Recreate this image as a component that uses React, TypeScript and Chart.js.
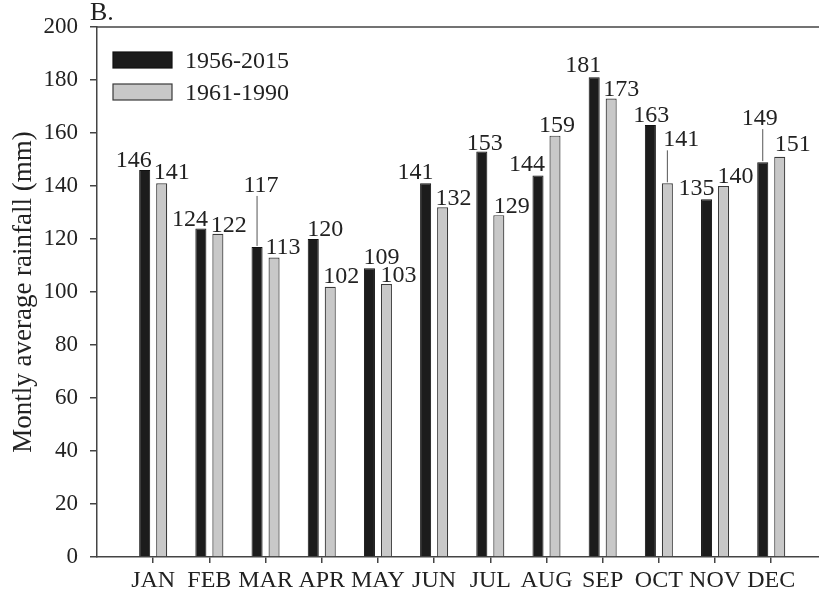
import React, { useEffect, useRef } from "react";
import { Chart, registerables } from "chart.js";

Chart.register(...registerables);

const MONTHS = ["JAN", "FEB", "MAR", "APR", "MAY", "JUN", "JUL", "AUG", "SEP", "OCT", "NOV", "DEC"];
const SERIES_A_LABEL = "1956-2015";
const SERIES_B_LABEL = "1961-1990";
const SERIES_A = [146, 124, 117, 120, 109, 141, 153, 144, 181, 163, 135, 149];
const SERIES_B = [141, 122, 113, 102, 103, 132, 129, 159, 173, 141, 140, 151];
const Y_TITLE = "Montly average rainfall (mm)";
const PANEL_TAG = "B.";

// value-label placement (pixel offsets from bar top centre)
const A_LABEL_DX = [-11, -11, 4, 12, 12, -10, 3, -11, -11, 1, -10, -3];
const A_LABEL_LIFT = [3, 2, 55, 3, 4, 4, 2, 4, 5, 3, 4, 37];
const B_LABEL_DX = [10, 11, 9, 11, 12, 11, 13, 2, 10, 14, 12, 13];
const B_LABEL_LIFT = [4, 2, 4, 4, 2, 2, 2, 4, 3, 37, 3, 6];

const FONT = '"Liberation Serif", "Times New Roman", serif';
const TEXT = "#222";
const AXIS = "#444";
const DARK = "#1c1c1c";
const LIGHT = "#c8c8c8";

const overlay = {
  id: "overlay",
  afterDatasetsDraw(chart: any) {
    const ctx = chart.ctx;
    const { left, right, top } = chart.chartArea;
    ctx.save();
    // top frame line
    ctx.strokeStyle = AXIS;
    ctx.lineWidth = 1.5;
    ctx.beginPath();
    ctx.moveTo(left, top);
    ctx.lineTo(right, top);
    ctx.stroke();

    // value labels
    ctx.font = `24px ${FONT}`;
    ctx.fillStyle = TEXT;
    ctx.textAlign = "center";
    ctx.textBaseline = "alphabetic";
    chart.data.datasets.forEach((ds: any, di: number) => {
      const meta = chart.getDatasetMeta(di);
      const dxs = di === 0 ? A_LABEL_DX : B_LABEL_DX;
      const lifts = di === 0 ? A_LABEL_LIFT : B_LABEL_LIFT;
      const vals = di === 0 ? SERIES_A : SERIES_B;
      meta.data.forEach((bar: any, i: number) => {
        const { x, y } = bar.getProps(["x", "y"], true);
        const tx = x + dxs[i];
        const ty = y - lifts[i];
        ctx.fillStyle = TEXT;
        ctx.fillText(String(vals[i]), tx, ty);
        if (lifts[i] > 20) {
          ctx.strokeStyle = "#555";
          ctx.lineWidth = 1;
          ctx.beginPath();
          ctx.moveTo(x, y - 1);
          ctx.lineTo(x, ty + 4);
          ctx.stroke();
        }
      });
    });

    // legend
    const items = chart.data.datasets;
    const sx = left + 16;
    const sw = 59;
    const sh = 16;
    const rowY = [52, 84];
    items.forEach((ds: any, di: number) => {
      const y0 = rowY[di];
      ctx.fillStyle = ds.backgroundColor;
      ctx.fillRect(sx, y0, sw, sh);
      ctx.strokeStyle = ds.borderColor;
      ctx.lineWidth = 1.2;
      ctx.strokeRect(sx, y0, sw, sh);
      ctx.fillStyle = TEXT;
      ctx.textAlign = "left";
      ctx.font = `24px ${FONT}`;
      ctx.fillText(ds.label, sx + sw + 13, y0 + sh);
    });

    // panel tag
    ctx.font = `26px ${FONT}`;
    ctx.textAlign = "left";
    ctx.fillText(PANEL_TAG, left - 7, top - 7);
    ctx.restore();
  },
};

export default function App() {
  const ref = useRef<HTMLCanvasElement>(null);
  useEffect(() => {
    if (!ref.current) return;
    const chart = new Chart(ref.current, {
      type: "bar",
      data: {
        datasets: [
          {
            label: SERIES_A_LABEL,
            data: SERIES_A.map((v, i) => ({ x: i + 1, y: v })),
            backgroundColor: DARK,
            borderColor: "#111",
            borderWidth: 1,
            categoryPercentage: 0.605,
            barPercentage: 0.65,
          },
          {
            label: SERIES_B_LABEL,
            data: SERIES_B.map((v, i) => ({ x: i + 1, y: v })),
            backgroundColor: LIGHT,
            borderColor: "#3a3a3a",
            borderWidth: 1.2,
            categoryPercentage: 0.605,
            barPercentage: 0.65,
          },
        ] as any,
      },
      options: {
        animation: false,
        responsive: true,
        maintainAspectRatio: false,
        layout: { padding: { top: 27, left: 0, right: 0, bottom: 0 } },
        plugins: { legend: { display: false }, tooltip: { enabled: false } },
        scales: {
          x: {
            type: "linear",
            min: 0,
            max: 12.85,
            offset: false,
            afterBuildTicks: (s: any) => {
              s.ticks = MONTHS.map((_, i) => ({ value: i + 1 }));
            },
            afterFit: (s: any) => {
              s.height = 34;
            },
            ticks: {
              autoSkip: false,
              maxRotation: 0,
              padding: 3,
              color: TEXT,
              font: { family: FONT, size: 24 },
              callback: (v: any) => MONTHS[Number(v) - 1] ?? "",
            },
            grid: { offset: false, drawOnChartArea: false, drawTicks: true, tickLength: 6, color: AXIS, lineWidth: 1.5 },
            border: { display: true, color: AXIS, width: 1.5 },
          },
          y: {
            min: 0,
            max: 200,
            afterFit: (s: any) => {
              s.width = 97;
            },
            ticks: {
              stepSize: 20,
              padding: 12,
              color: TEXT,
              font: { family: FONT, size: 23 },
            },
            grid: { drawOnChartArea: false, drawTicks: true, tickLength: 7, color: AXIS, lineWidth: 1.5 },
            border: { display: true, color: AXIS, width: 1.5 },
            title: {
              display: true,
              text: Y_TITLE,
              color: TEXT,
              font: { family: FONT, size: 27 },
              padding: { top: 8, bottom: 0 },
            },
          },
        },
      },
      plugins: [overlay],
    });
    return () => chart.destroy();
  }, []);
  return (
    <div style={{ position: "fixed", left: 0, top: 0, width: 819, height: 591, background: "#fff" }}>
      <canvas ref={ref} />
    </div>
  );
}
